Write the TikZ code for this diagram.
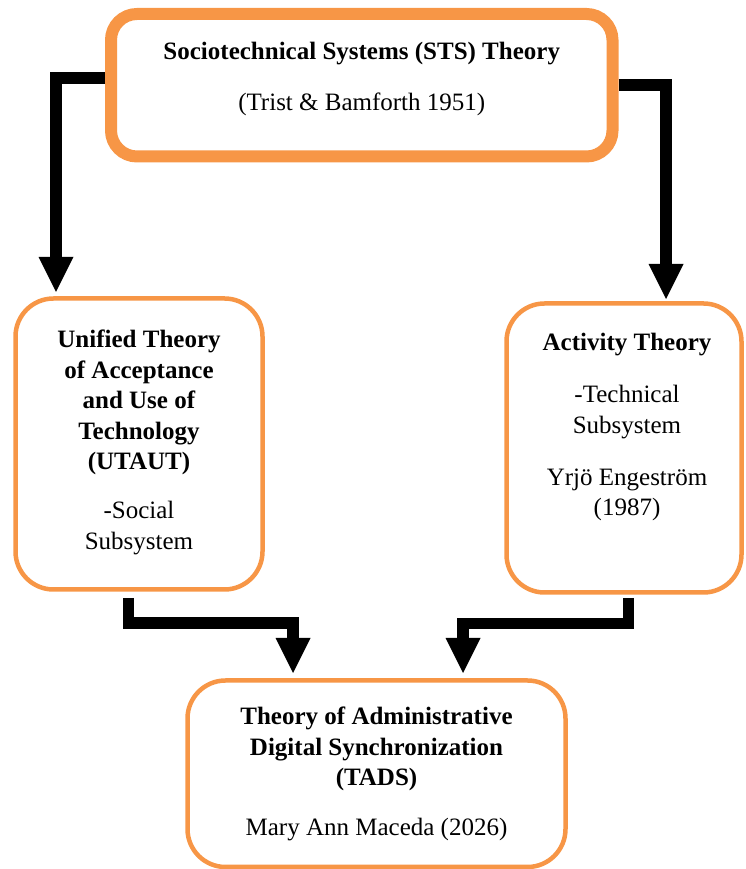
\documentclass[tikz,border=0pt]{standalone}
\usepackage{fontspec}
\setmainfont{Liberation Serif}
\usetikzlibrary{arrows.meta}
\definecolor{boxorange}{HTML}{F79646}

\begin{document}
\begin{tikzpicture}[x=1pt, y=1pt,
  frame/.style={draw=boxorange, fill=white, line width=4.5pt, rounded corners=38pt,
                inner sep=0pt, outer sep=0pt},
  words/.style={align=center, anchor=north, inner sep=0pt,
                font=\fontsize{25}{30.5}\selectfont},
  flow/.style={line width=11.5pt, -{Triangle[width=35pt,length=35pt,line width=0pt]}}]
\useasboundingbox (0,0) rectangle (745,869);
\clip (0,0) rectangle (745,869);

% the four theories
\node [frame, line width=12pt, rounded corners=26pt,
       minimum width=501.5pt, minimum height=142.5pt] (sts) at (361.75,783.75) {};
\node [frame, minimum width=247pt, minimum height=291pt] (utaut) at (139,425) {};
\node [frame, minimum width=235pt, minimum height=289pt] (act) at (624,421) {};
\node [frame, minimum width=378pt, minimum height=186.5pt] (tads) at (376.5,95.25) {};

\node [words] (stsText) at ([yshift=-28pt]sts.north)
  {\textbf{Sociotechnical Systems (STS) Theory}\\[20.5pt](Trist \& Bamforth 1951)};
\node [words] (utautText) at ([yshift=-31.5pt]utaut.north)
  {\textbf{Unified Theory}\\\textbf{of Acceptance}\\\textbf{and Use of}\\
   \textbf{Technology}\\\textbf{(UTAUT)}\\[18.5pt]-Social\\Subsystem};
\node [words] (actText) at ([xshift=3pt,yshift=-29.5pt]act.north)
  {\textbf{Activity Theory}\\[21.5pt]-Technical\\Subsystem\\[21.5pt]Yrjö Engeström\\(1987)};
\node [words] (tadsText) at ([yshift=-26.5pt]tads.north)
  {\textbf{Theory of Administrative}\\\textbf{Digital Synchronization}\\
   \textbf{(TADS)}\\[19.5pt]Mary Ann Maceda (2026)};

% arrows
\draw [flow, shorten <=6pt, shorten >=6.5pt] ([yshift=7.25pt]sts.west) -| ([xshift=-83pt]utaut.north);
\draw [flow, shorten <=6pt, shorten >=4.5pt] (sts.east) -| ([xshift=42pt]act.north);
\draw [flow, shorten <=8.5pt, shorten >=7.5pt] ([xshift=-10.5pt]utaut.south) -- ++(0,-33.5)
  -| ([xshift=-83.5pt]tads.north);
\draw [flow, shorten <=5.5pt, shorten >=7.5pt] ([xshift=4.5pt]act.south) -- ++(0,-31)
  -| ([xshift=86.5pt]tads.north);
\end{tikzpicture}
\end{document}
